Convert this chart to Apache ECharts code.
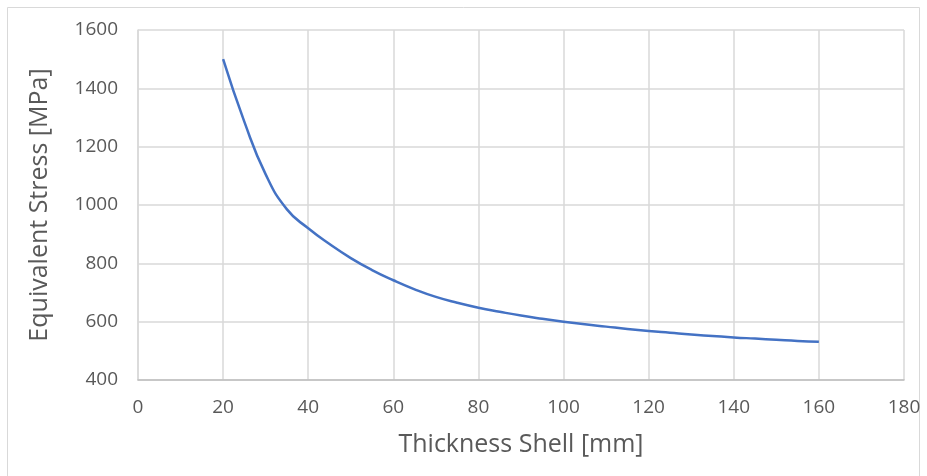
<!DOCTYPE html>
<html>
<head>
<meta charset="utf-8">
<script src="https://cdn.jsdelivr.net/npm/echarts@6/dist/echarts.min.js"></script>
<style>
  html, body { margin: 0; padding: 0; background: #ffffff; }
  #chart { width: 927px; height: 476px; }
</style>
</head>
<body>
<div id="chart"></div>
<script>
// Shell thickness [mm] against equivalent stress [MPa]
const thickness = [20, 25, 30, 35, 40, 45, 50, 55, 60, 65, 70, 75, 80, 85, 90, 95, 100, 105, 110, 115, 120, 125, 130, 135, 140, 145, 150, 155, 160];
const stress = [1500, 1285, 1105, 985, 920, 866, 818, 777, 742, 711, 685, 665, 648, 634, 621, 610, 600, 591, 583, 575, 568, 562, 556, 551, 546, 542, 538, 534, 531];
const xTicks = [0, 20, 40, 60, 80, 100, 120, 140, 160, 180];
const yTicks = [400, 600, 800, 1000, 1200, 1400, 1600];

const points = thickness.map((t, i) => [t, stress[i]]);
const fontFamily = '"Open Sans", "Noto Sans", sans-serif';
const textColor = '#595959';
const gridColor = '#d9d9d9';

const chart = echarts.init(document.getElementById('chart'), null, { renderer: 'canvas' });
chart.setOption({
  animation: false,
  backgroundColor: '#ffffff',
  graphic: [{
    type: 'rect',
    shape: { x: 7.5, y: 7.5, width: 912, height: 490 },
    style: { fill: 'none', stroke: '#d9d9d9', lineWidth: 1 }
  }],
  grid: { left: 138, right: 23, top: 30, bottom: 96 },
  xAxis: {
    type: 'value',
    min: xTicks[0],
    max: xTicks[xTicks.length - 1],
    interval: xTicks[1] - xTicks[0],
    name: 'Thickness Shell [mm]',
    nameLocation: 'middle',
    nameGap: 52,
    nameTextStyle: { color: textColor, fontSize: 25, fontFamily },
    axisLine: { show: true, lineStyle: { color: '#bfbfbf', width: 1.5 } },
    axisTick: { show: false },
    axisLabel: { color: textColor, fontSize: 19, fontFamily, margin: 18, formatter: v => String(v) },
    splitLine: { show: true, lineStyle: { color: gridColor, width: 1.5 } }
  },
  yAxis: {
    type: 'value',
    min: yTicks[0],
    max: yTicks[yTicks.length - 1],
    interval: yTicks[1] - yTicks[0],
    name: 'Equivalent Stress [MPa]',
    nameLocation: 'middle',
    nameGap: 86,
    nameTextStyle: { color: textColor, fontSize: 25, fontFamily },
    axisLine: { show: true, lineStyle: { color: gridColor, width: 1.5 } },
    axisTick: { show: false },
    axisLabel: { color: textColor, fontSize: 19, fontFamily, margin: 20, formatter: v => String(v) },
    splitLine: { show: true, lineStyle: { color: gridColor, width: 1.5 } }
  },
  series: [{
    type: 'line',
    data: points,
    smooth: 0.5,
    showSymbol: false,
    lineStyle: { color: '#4472c4', width: 2.5 },
    clip: false
  }]
});
</script>
</body>
</html>
